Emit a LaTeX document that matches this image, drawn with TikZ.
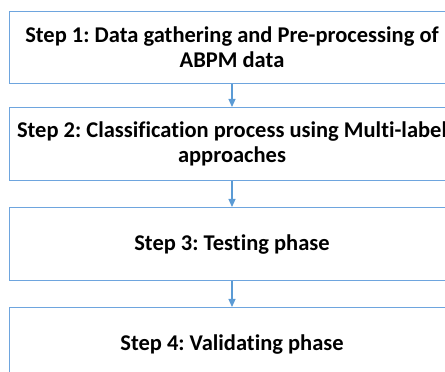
\documentclass[tikz,border=0pt]{standalone}
\usepackage{fontspec}
\setmainfont{Carlito}[Ligatures=NoCommon]
\frenchspacing
\usetikzlibrary{arrows.meta}
\definecolor{boxline}{RGB}{110,165,222}
\definecolor{arrowc}{RGB}{91,155,213}
\tikzset{
  stepbox/.style={draw=boxline, line width=1.1pt, minimum width=445pt, inner sep=0pt, align=center, font=\fontsize{22.5}{25}\selectfont\bfseries, anchor=north},
  flow/.style={draw=arrowc, line width=1.2pt, -{Triangle[length=8pt,width=7pt]}}
}
\begin{document}
\begin{tikzpicture}[x=1pt,y=1pt]
\useasboundingbox (0,0) rectangle (445,372);
\node[stepbox, minimum height=72pt] (s1) at (232,361) {Step 1: Data gathering and Pre-processing of\\ABPM data};
\node[stepbox, minimum height=73pt] (s2) at (232,265) {Step 2: Classification process using Multi-label\\approaches};
\node[stepbox, minimum height=73pt] (s3) at (232,165) {Step 3: Testing phase};
\node[stepbox, minimum height=73pt] (s4) at (232,65) {Step 4: Validating phase};
\draw[flow] (s1.south) -- (s2.north);
\draw[flow] (s2.south) -- (s3.north);
\draw[flow] (s3.south) -- (s4.north);
\end{tikzpicture}
\end{document}
